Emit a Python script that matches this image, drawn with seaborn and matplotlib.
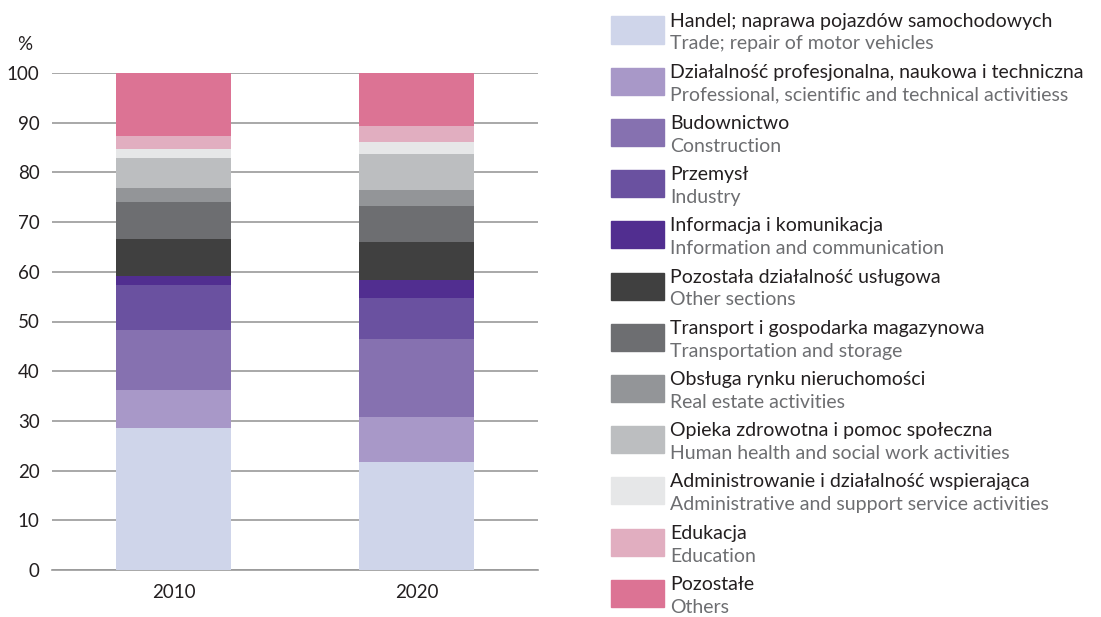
import numpy as np
import pandas as pd
import matplotlib
matplotlib.use("Agg")
import matplotlib.pyplot as plt
from matplotlib.patches import Rectangle
import seaborn as sns

years = ["2010", "2020"]
sectors_pl = [
    "Handel; naprawa pojazdów samochodowych",
    "Działalność profesjonalna, naukowa i techniczna",
    "Budownictwo",
    "Przemysł",
    "Informacja i komunikacja",
    "Pozostała działalność usługowa",
    "Transport i gospodarka magazynowa",
    "Obsługa rynku nieruchomości",
    "Opieka zdrowotna i pomoc społeczna",
    "Administrowanie i działalność wspierająca",
    "Edukacja",
    "Pozostałe",
]
sectors_en = [
    "Trade; repair of motor vehicles",
    "Professional, scientific and technical activitiess",
    "Construction",
    "Industry",
    "Information and communication",
    "Other sections",
    "Transportation and storage",
    "Real estate activities",
    "Human health and social work activities",
    "Administrative and support service activities",
    "Education",
    "Others",
]
share_2010 = [28.5, 7.7, 12.0, 9.2, 1.7, 7.4, 7.6, 2.7, 6.1, 1.8, 2.7, 12.6]
share_2020 = [21.7, 9.1, 15.7, 8.2, 3.7, 7.6, 7.2, 3.3, 7.2, 2.4, 3.2, 10.7]
colors = ["#CFD5EA", "#A898C8", "#8671B0", "#6A51A0", "#512E90", "#404040",
          "#6D6E71", "#939598", "#BCBEC0", "#E6E7E8", "#E1AEC0", "#DC7394"]

sns.set_style("white")
plt.rcParams["font.family"] = ["Lato", "DejaVu Sans"]

fig = plt.figure(figsize=(11.01, 6.17), dpi=100)
W, H = 1101, 617
ax = fig.add_axes([52 / W, 1 - 570 / H, (538 - 52) / W, (570 - 73) / H])

bottom = np.zeros(len(years))
for i, name in enumerate(sectors_pl):
    vals = np.array([share_2010[i], share_2020[i]])
    sns.barplot(x=years, y=vals, bottom=bottom, color=colors[i], width=0.47,
                errorbar=None, linewidth=0, saturation=1, ax=ax, zorder=3)
    bottom = bottom + vals

ax.set_ylim(0, 100)
ax.set_xlim(-0.5, 1.5)
ax.set_yticks(range(0, 101, 10))
ax.yaxis.grid(True, color="#9A9A9A", linewidth=1.2, zorder=0)
ax.set_axisbelow(True)
for s in ["left", "right", "top"]:
    ax.spines[s].set_visible(False)
ax.spines["bottom"].set_color("#9A9A9A")
ax.spines["bottom"].set_linewidth(1.2)
ax.tick_params(axis="y", length=0, pad=9, labelsize=13.5, labelcolor="#231F20")
ax.tick_params(axis="x", which="major", length=0, pad=10, labelsize=13.5, labelcolor="#231F20")
ax.set_xticks([-0.5, 0.5, 1.5], minor=True)
ax.tick_params(axis="x", which="minor", length=6, color="#9A9A9A", width=1.2, direction="out")
ax.set_xlabel("")
ax.set_ylabel("")
fig.text(17 / W, 1 - 45 / H, "%", fontsize=13.5, color="#231F20", va="center")

# legend drawn by hand: two lines per entry
for i in range(len(sectors_pl)):
    top = 16.5 + i * 51.2
    fig.patches.append(Rectangle((611 / W, 1 - (top + 27) / H), 53 / W, 27 / H,
                                 transform=fig.transFigure, color=colors[i]))
    fig.text(670 / W, 1 - (top + 10) / H, sectors_pl[i], fontsize=14,
             color="#231F20", va="baseline")
    fig.text(670 / W, 1 - (top + 33) / H, sectors_en[i], fontsize=14,
             color="#6D6E71", va="baseline")

fig.savefig("out.png", dpi=100)
